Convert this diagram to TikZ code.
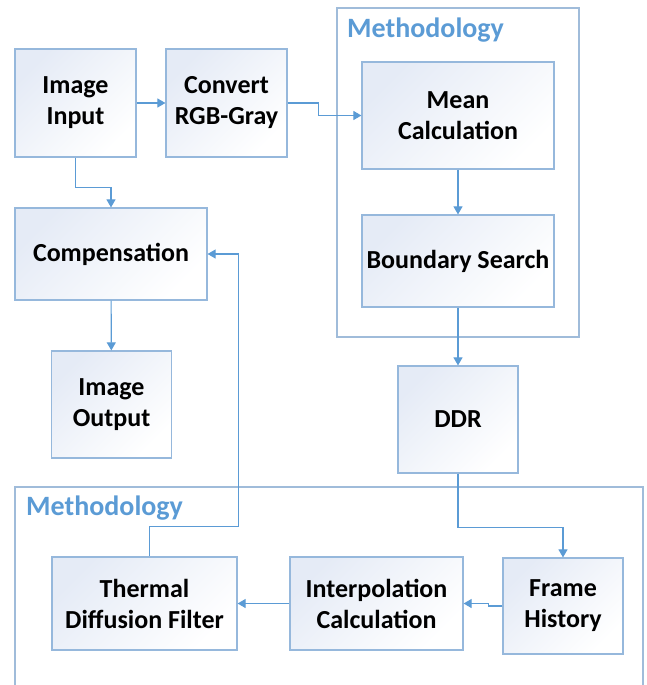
\documentclass[tikz,border=0pt]{standalone}
\usepackage{fontspec}
\setmainfont{Carlito}
\usetikzlibrary{arrows.meta}
\definecolor{flowblue}{RGB}{91,155,213}
\definecolor{boxedge}{RGB}{150,184,220}
\definecolor{groupedge}{RGB}{160,188,218}
\definecolor{boxfill}{RGB}{229,235,246}
\begin{document}
\begin{tikzpicture}[x=1pt,y=-1pt]
\tikzstyle{block}=[draw=boxedge, line width=1.2pt, rectangle, top color=boxfill, bottom color=white, shading angle=45, align=center, font=\fontsize{26}{31}\selectfont\bfseries]
\tikzstyle{line}=[draw=flowblue, line width=1.1pt, -{Triangle[width=9pt,length=8pt]}]
\tikzstyle{group}=[draw=groupedge, line width=1.2pt]
\tikzstyle{grouplabel}=[anchor=west, text=flowblue, inner sep=0pt, font=\fontsize{28}{32}\selectfont\bfseries]

\useasboundingbox (0,0) rectangle (646,685);

% Method groups
\draw[group] (337,8) rectangle (579,337);
\node[grouplabel] (methodA) at (347,30) {Methodology};
\draw[group] (15,685) -- (15,487) -- (643,487) -- (643,685);
\node[grouplabel] (methodB) at (26,508) {Methodology};

% Define blocks
\node[block, minimum width=121, minimum height=108] (input) at (75.5,103) {Image\\Input};
\node[block, minimum width=121, minimum height=108] (convert) at (226.5,103) {Convert\\RGB-Gray};
\node[block, minimum width=192, minimum height=107] (mean) at (458,115.5) {Mean\\Calculation};
\node[block, minimum width=192, minimum height=92] (boundary) at (458,261) {Boundary Search};
\node[block, minimum width=120, minimum height=107] (ddr) at (458,419.5) {DDR};
\node[block, minimum width=192, minimum height=92] (comp) at (111,254) {Compensation};
\node[block, minimum width=120, minimum height=107] (output) at (111.5,404.5) {Image\\Output};
\node[block, minimum width=185, minimum height=93] (thermal) at (144.5,603.5) {Thermal\\Diffusion Filter};
\node[block, minimum width=173, minimum height=93] (interp) at (376.5,603.5) {Interpolation\\Calculation};
\node[block, minimum width=120, minimum height=96] (frame) at (563,606) {Frame\\History};

% Data flow
\draw[line] (input) -- (convert);
\draw[line] (convert.east) -- ++(31,0) |- (mean.west);
\draw[line] (input.south) -- ++(0,30) -| (comp.north);
\draw[line] (comp) -- (output);
\draw[line] (mean) -- (boundary);
\draw[line] (boundary) -- (ddr);
\draw[line] (ddr.south) -- ++(0,54) -| (frame.north);
\draw[line] (frame.west) -- ++(-14,0) |- (interp.east);
\draw[line] (interp) -- (thermal);
\draw[line] ([xshift=5]thermal.north) -- ++(0,-30) -- ++(89,0) |- (comp.east);
\end{tikzpicture}
\end{document}
